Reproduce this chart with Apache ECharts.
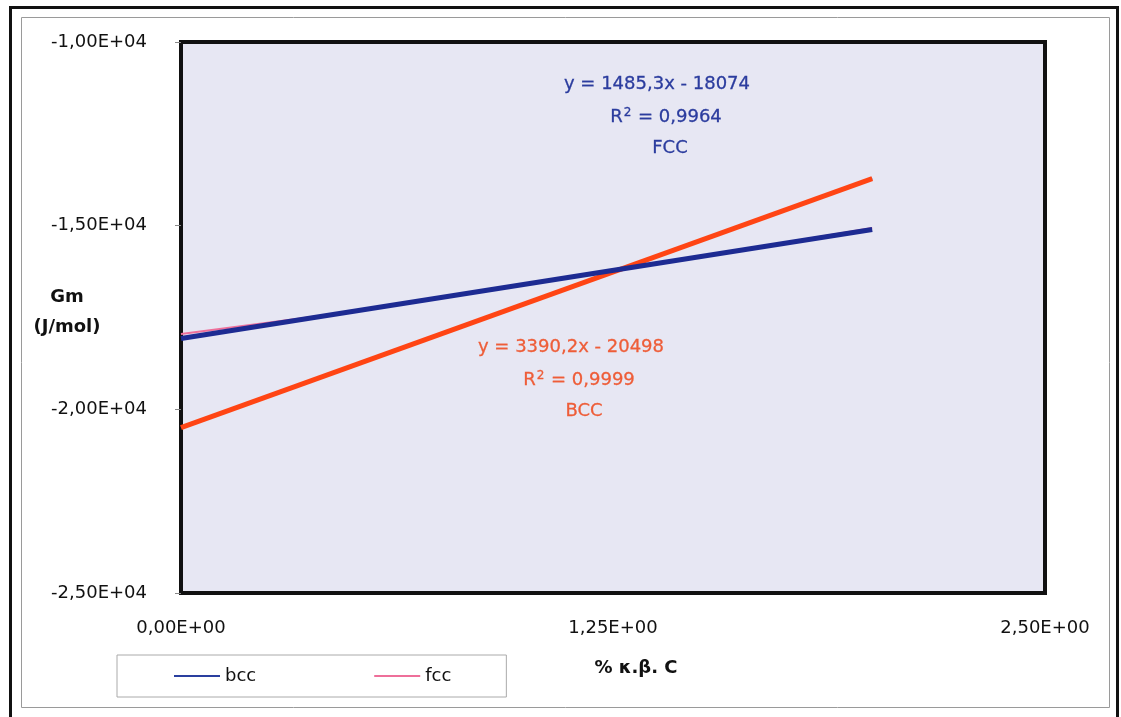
<!DOCTYPE html>
<html>
<head>
<meta charset="utf-8">
<script src="https://cdn.jsdelivr.net/npm/echarts@6/dist/echarts.min.js"></script>
<style>
  html, body { margin: 0; padding: 0; background: #fff; }
  #chart { width: 1121px; height: 717px; }
</style>
</head>
<body>
<div id="chart"></div>
<script>
// ---- data ----
const xTicks = [0, 1.25, 2.5];
const yTicks = [-25000, -20000, -15000, -10000];
const bccData = [[0, -20490], [0.5, -18810], [1, -17100], [1.5, -15420], [2, -13715]];
const fccData = [[0, -17950], [0.5, -17335], [1, -16595], [1.5, -15850], [2, -15060]];
const bccTrend = [[0, -20498], [2, -13718]];
const fccTrend = [[0, -18074], [2, -15103]];
const fccLabel = ['y = 1485,3x - 18074', '0,9964', 'FCC'];
const bccLabel = ['y = 3390,2x - 20498', '0,9999', 'BCC'];
const xTitle = '% κ.β. C';
const yTitle = ['Gm', '(J/mol)'];

const FONT = '"DejaVu Sans", sans-serif';
function sci(v) {
  const s = Number(v).toExponential(2);
  const parts = s.split('e');
  const sign = parts[1][0];
  const d = parts[1].slice(1).padStart(2, '0');
  return parts[0].replace('.', ',') + 'E' + sign + d;
}
function txt(text, x, y, color, bold) {
  return {
    type: 'text', x: x, y: y, z: 50,
    style: {
      text: text, fill: color, align: 'center', verticalAlign: 'middle',
      fontFamily: FONT, fontSize: 18, fontWeight: bold ? 'bold' : 'normal',
      stroke: bold ? null : color, lineWidth: bold ? 0 : 0.3
    }
  };
}
function rtxt(val, x, y, color) {
  return {
    type: 'text', x: x, y: y, z: 50,
    style: {
      text: 'R{sup|2} = ' + val, fill: color, align: 'center', verticalAlign: 'middle',
      fontFamily: FONT, fontSize: 18, stroke: color, lineWidth: 0.3,
      rich: { sup: { fontFamily: FONT, fontSize: 12, fill: color, padding: [0, 1, 9, 1] } }
    }
  };
}
const BLUE_T = '#2b3c9e', ORANGE_T = '#ee5d38';

const chart = echarts.init(document.getElementById('chart'), null, { renderer: 'canvas' });
chart.setOption({
  animation: false,
  backgroundColor: '#ffffff',
  grid: {
    left: 181, top: 42, width: 864, height: 551,
    show: true, backgroundColor: '#e7e7f3', borderColor: '#111', borderWidth: 4
  },
  xAxis: {
    type: 'value', min: xTicks[0], max: xTicks[xTicks.length - 1], interval: 1.25,
    axisLine: { show: false }, axisTick: { show: false }, splitLine: { show: false },
    axisLabel: { formatter: sci, margin: 26, color: '#111', fontFamily: FONT, fontSize: 18 }
  },
  yAxis: {
    type: 'value', min: yTicks[0], max: yTicks[yTicks.length - 1], interval: 5000,
    axisLine: { show: false },
    axisTick: { show: true, length: 6, lineStyle: { color: '#888' } },
    splitLine: { show: false },
    axisLabel: { formatter: sci, margin: 34, color: '#111', fontFamily: FONT, fontSize: 18 }
  },
  legend: {
    data: ['bcc', 'fcc'],
    left: 117, top: 655,
    padding: [12, 55, 12, 57],
    itemGap: 118, itemWidth: 46, itemHeight: 2, icon: 'rect',
    backgroundColor: '#fff', borderColor: '#aaa', borderWidth: 1, borderRadius: 0,
    textStyle: { color: '#111', fontFamily: FONT, fontSize: 18 }
  },
  series: [
    { name: 'bcc', type: 'line', data: bccData, symbol: 'none', z: 2,
      lineStyle: { color: '#2a3f9f', width: 2 }, itemStyle: { color: '#2a3f9f' } },
    { name: 'fcc', type: 'line', data: fccData, symbol: 'none', z: 2,
      lineStyle: { color: '#ee6f9a', width: 2 }, itemStyle: { color: '#ee6f9a' } },
    { name: 'BCC trend', type: 'line', data: bccTrend, symbol: 'none', z: 3,
      lineStyle: { color: '#ff4514', width: 5 }, itemStyle: { color: '#ff4514' } },
    { name: 'FCC trend', type: 'line', data: fccTrend, symbol: 'none', z: 4,
      lineStyle: { color: '#1d2b92', width: 5 }, itemStyle: { color: '#1d2b92' } }
  ],
  graphic: [
    { type: 'rect', z: 0, shape: { x: 10.5, y: 7.5, width: 1107, height: 730 },
      style: { fill: 'none', stroke: '#111', lineWidth: 3 } },
    { type: 'rect', z: 0, shape: { x: 21.5, y: 17.5, width: 1088, height: 690 },
      style: { fill: 'none', stroke: '#9a9a9a', lineWidth: 1 } },
    txt(fccLabel[0], 657, 84, BLUE_T),
    rtxt(fccLabel[1], 666, 117, BLUE_T),
    txt(fccLabel[2], 670, 148, BLUE_T),
    txt(bccLabel[0], 571, 347, ORANGE_T),
    rtxt(bccLabel[1], 579, 380, ORANGE_T),
    txt(bccLabel[2], 584, 411, ORANGE_T),
    txt(yTitle[0], 67, 297, '#111', true),
    txt(yTitle[1], 67, 327, '#111', true),
    txt(xTitle, 636, 668, '#111', true)
  ]
});
</script>
</body>
</html>
